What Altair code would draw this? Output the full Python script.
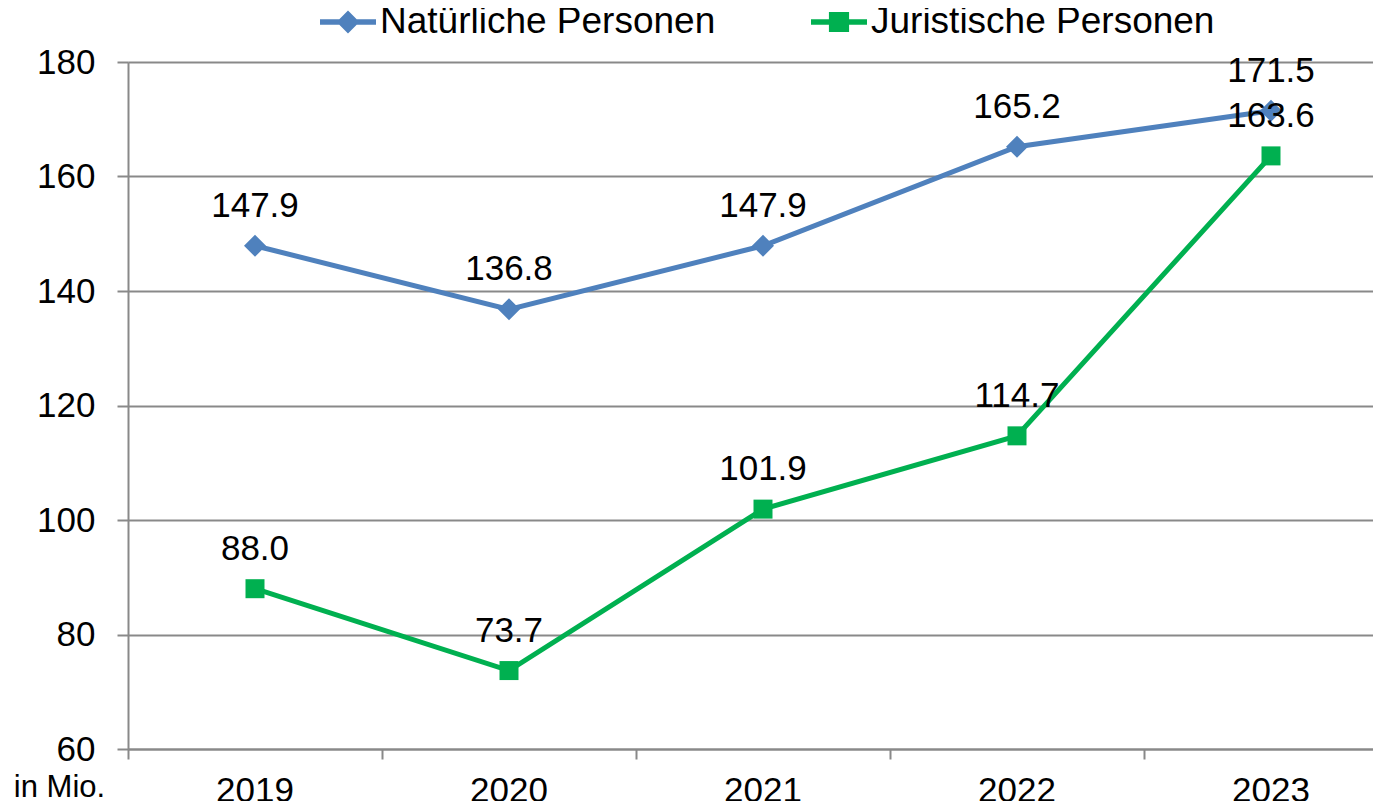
import altair as alt
import pandas as pd

# ---- data ----
jahre = ["2019", "2020", "2021", "2022", "2023"]
natuerliche = [147.9, 136.8, 147.9, 165.2, 171.5]
juristische = [88.0, 73.7, 101.9, 114.7, 163.6]
serien = ["Natürliche Personen", "Juristische Personen"]
farben = ["#4F81BD", "#00B050"]
y_ticks = [60, 80, 100, 120, 140, 160, 180]

rows = []
for j, n, r in zip(jahre, natuerliche, juristische):
    rows.append({"Jahr": j, "Serie": serien[0], "Wert": n})
    rows.append({"Jahr": j, "Serie": serien[1], "Wert": r})
df = pd.DataFrame(rows)

FONT = "Liberation Sans"
GRAY = "#898989"

x_scale = alt.Scale(type="band", domain=jahre, range=[0, 1270], paddingInner=0, paddingOuter=0)
x_axis = alt.Axis(title=None, bandPosition=0, labelAngle=0, grid=False,
                  domainColor=GRAY, domainWidth=2, tickColor=GRAY, tickWidth=2, tickSize=10,
                  labelFont=FONT, labelFontSize=35, labelColor="black", labelPadding=14)
y_scale = alt.Scale(domain=[60, 180], nice=False, zero=False)
y_axis = alt.Axis(values=y_ticks, grid=True, gridColor=GRAY, gridWidth=2,
                  domainColor=GRAY, domainWidth=2, tickColor=GRAY, tickWidth=2, tickSize=11,
                  labelFont=FONT, labelFontSize=35, labelColor="black", labelPadding=22,
                  title="in Mio.", titleAngle=0, titleX=-69, titleY=734, titleAlign="center",
                  titleBaseline="alphabetic", titleFont=FONT, titleFontSize=31,
                  titleFontWeight="normal", titleColor="black")

x_enc = alt.X("Jahr:O", sort=jahre, bandPosition=0.5, scale=x_scale, axis=x_axis)
y_enc = alt.Y("Wert:Q", scale=y_scale, axis=y_axis)
color_scale = alt.Scale(domain=serien, range=farben)

base = alt.Chart(df)

def series_layers(name, colour, shape, size):
    sub = base.transform_filter(alt.datum.Serie == name)
    line = sub.mark_line(strokeWidth=5, color=colour).encode(x=x_enc, y=y_enc)
    pts = sub.mark_point(shape=shape, filled=True, size=size, opacity=1, color=colour).encode(x=x_enc, y=y_enc)
    return line, pts

line_n, pts_n = series_layers(serien[0], farben[0], "diamond", 484)
line_j, pts_j = series_layers(serien[1], farben[1], "square", 361)

labels = base.mark_text(dy=-29, fontSize=35, font=FONT, color="black", baseline="alphabetic").encode(
    x=x_enc, y=y_enc, text=alt.Text("Wert:Q", format=".1f")
)

path_diamond = "M-1,-0.1H-0.31L0,-0.41L0.31,-0.1H1V0.1H0.31L0,0.41L-0.31,0.1H-1Z"
path_square = "M-1,-0.1H-0.36V-0.36H0.36V-0.1H1V0.1H0.36V0.36H-0.36V0.1H-1Z"

leg = alt.Legend(orient="none", legendX=192, legendY=-68, direction="horizontal", title=None,
                 labelFont=FONT, labelFontSize=37, labelColor="black", labelLimit=700,
                 labelOffset=4, symbolSize=3136, symbolStrokeWidth=0, columnPadding=95,
                 padding=0, symbolOpacity=1)

legend_layer = base.transform_filter("false").mark_point(filled=True, opacity=1).encode(
    x=x_enc, y=y_enc,
    color=alt.Color("Serie:N", scale=color_scale, legend=leg),
    shape=alt.Shape("Serie:N", scale=alt.Scale(domain=serien, range=[path_diamond, path_square]), legend=leg),
)

chart = alt.layer(line_n, line_j, pts_n, pts_j, labels, legend_layer).properties(
    width=1245, height=687,
    autosize=alt.AutoSizeParams(type="none"),
    padding={"left": 120, "top": 54, "right": 0, "bottom": 52},
).configure_view(stroke=None).configure(background="white")

chart.save("out.html", embed_options={"renderer": "svg", "actions": False})
